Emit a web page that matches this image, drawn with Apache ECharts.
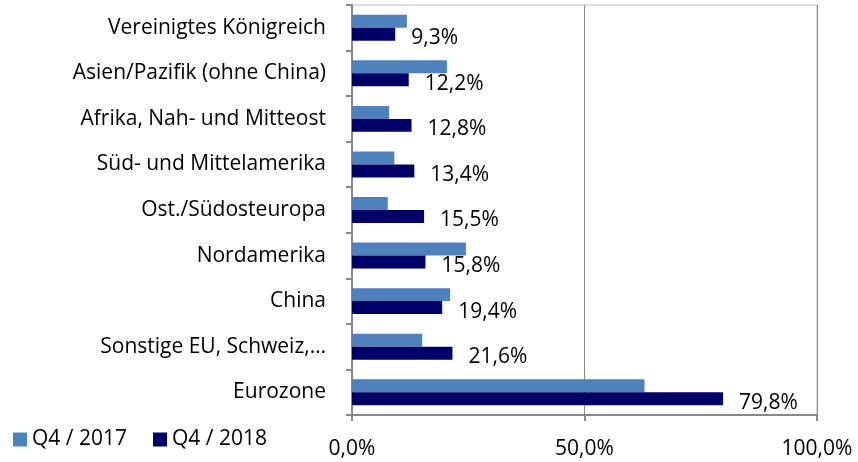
<!DOCTYPE html>
<html>
<head>
<meta charset="utf-8">
<script src="https://cdn.jsdelivr.net/npm/echarts@6/dist/echarts.min.js"></script>
<style>
  html, body { margin: 0; padding: 0; background: #fff; }
  #chart { width: 858px; height: 462px; }
</style>
</head>
<body>
<div id="chart"></div>
<script>
  // Regionen, von oben nach unten
  var regionen = [
    'Vereinigtes Königreich',
    'Asien/Pazifik (ohne China)',
    'Afrika, Nah- und Mitteost',
    'Süd- und Mittelamerika',
    'Ost./Südosteuropa',
    'Nordamerika',
    'China',
    'Sonstige EU, Schweiz,…',
    'Eurozone'
  ];
  var q4_2017 = [11.8, 20.4, 8.0, 9.1, 7.7, 24.5, 21.1, 15.1, 62.9];
  var q4_2018 = [9.3, 12.2, 12.8, 13.4, 15.5, 15.8, 19.4, 21.6, 79.8];
  var achsenTicks = [0, 50, 100];

  var fontName = '"Open Sans", sans-serif';
  var fmt = function (v) { return v.toFixed(1).replace('.', ',') + '%'; };

  var chart = echarts.init(document.getElementById('chart'));
  chart.setOption({
    animation: false,
    textStyle: { fontFamily: fontName },
    grid: {
      left: 352, right: 41, top: 5, bottom: 47,
      show: true, borderColor: '#bfbfbf', borderWidth: 1
    },
    legend: {
      left: 8, top: 424,
      itemWidth: 14, itemHeight: 14, itemGap: 26,
      icon: 'rect',
      textStyle: { fontSize: 21, color: '#000', fontFamily: fontName },
      data: ['Q4 / 2017', 'Q4 / 2018']
    },
    xAxis: {
      type: 'value',
      min: achsenTicks[0], max: achsenTicks[achsenTicks.length - 1], interval: 50,
      axisLine: { show: true, lineStyle: { color: '#888', width: 2 } },
      axisTick: { show: true, length: 6, lineStyle: { color: '#888', width: 2 } },
      axisLabel: { fontSize: 21, color: '#000', margin: 24, formatter: fmt },
      splitLine: { show: true, lineStyle: { color: '#888', width: 1 } }
    },
    yAxis: {
      type: 'category',
      inverse: true,
      data: regionen,
      axisLine: { show: true, lineStyle: { color: '#888', width: 2 } },
      axisTick: { show: true, length: 6, lineStyle: { color: '#888', width: 2 } },
      axisLabel: { fontSize: 21, color: '#000', margin: 26 }
    },
    series: [
      {
        name: 'Q4 / 2017',
        type: 'bar',
        data: q4_2017,
        barGap: '0%',
        barCategoryGap: '43%',
        itemStyle: { color: '#4F81BD' }
      },
      {
        name: 'Q4 / 2018',
        type: 'bar',
        data: q4_2018,
        itemStyle: { color: '#000066' },
        label: {
          show: true,
          position: 'right',
          distance: 16,
          offset: [0, 4],
          fontSize: 21,
          color: '#000',
          formatter: function (p) { return fmt(p.value); }
        }
      }
    ]
  });
</script>
</body>
</html>
